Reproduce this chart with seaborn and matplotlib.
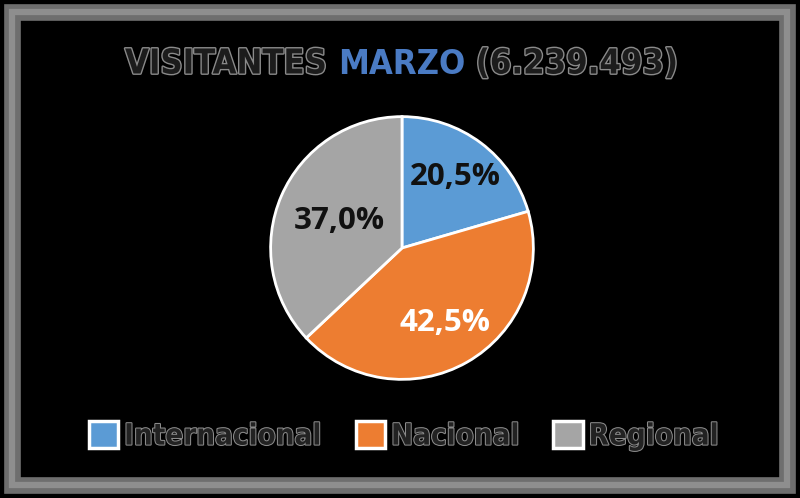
import matplotlib
matplotlib.use("Agg")
import matplotlib.pyplot as plt
import matplotlib.patheffects as pe
from matplotlib.patches import Patch, Rectangle
import numpy as np
import seaborn as sns

# datos del grafico
categorias = ["Internacional", "Nacional", "Regional"]
porcentajes = [20.5, 42.5, 37.0]
colores = ["#5B9BD5", "#ED7D31", "#A5A5A5"]
color_etiquetas = ["#111111", "#FFFFFF", "#111111"]
titulo_partes = ["VISITANTES ", "MARZO", " (6.239.493)"]
titulo_colores = ["#1c1c1c", "#4a7bc4", "#1c1c1c"]

sns.set_theme(style="white")
plt.rcParams["font.family"] = ["Open Sans", "DejaVu Sans"]

fig = plt.figure(figsize=(8, 4.98), dpi=100)
fig.patch.set_facecolor("black")
renderer = fig.canvas.get_renderer()

# marco gris
fig.patches.append(Rectangle((0.0156, 0.0271), 0.96875, 0.9488, transform=fig.transFigure,
                             fill=False, edgecolor="#6e6e6e", linewidth=12, joinstyle="miter"))
fig.patches.append(Rectangle((0.0156, 0.0271), 0.96875, 0.9488, transform=fig.transFigure,
                             fill=False, edgecolor="#8e8e8e", linewidth=4.5, joinstyle="miter"))

# pastel
ax = fig.add_axes([(402 - 134) / 800, 1 - (248 + 134) / 498, 268 / 800, 268 / 498])
ax.set_facecolor("black")
cunas, _ = ax.pie(porcentajes, colors=colores, startangle=90, counterclock=False,
                  wedgeprops=dict(edgecolor="white", linewidth=2))
ax.set_xlim(-1.02, 1.02)
ax.set_ylim(-1.02, 1.02)
ax.axis("off")

distancias = [0.68, 0.66, 0.52]
for cuna, p, c, d in zip(cunas, porcentajes, color_etiquetas, distancias):
    ang = np.deg2rad((cuna.theta1 + cuna.theta2) / 2)
    ax.text(d * np.cos(ang), d * np.sin(ang), f"{p:.1f}%".replace(".", ","),
            ha="center", va="center", color=c, fontsize=22.5, fontweight="bold")

# titulo en partes, ajustado al ancho del original (125 a 678 px)
contorno = [pe.withStroke(linewidth=2, foreground="#8a8a8a")]
fuente_titulo = dict(family="DejaVu Sans", fontstretch="condensed", fontweight="bold")
prueba = fig.text(0, 0, "".join(titulo_partes), fontsize=29, **fuente_titulo)
ancho = prueba.get_window_extent(renderer=renderer).width
prueba.remove()
tam_titulo = 29 * 553 / ancho
x = 125 / 800
for txt, col in zip(titulo_partes, titulo_colores):
    t = fig.text(x, 1 - 64 / 498, txt, color=col, fontsize=tam_titulo, va="center", ha="left", **fuente_titulo)
    if col != "#4a7bc4":
        t.set_path_effects(contorno)
    bb = t.get_window_extent(renderer=renderer)
    x = bb.x1 / fig.bbox.width

# leyenda, "Internacional" de unos 200 px
prueba = fig.text(0, 0, categorias[0], fontsize=25, family="DejaVu Sans", fontstretch="condensed", fontweight="bold")
ancho = prueba.get_window_extent(renderer=renderer).width
prueba.remove()
tam_leyenda = 25 * 198 / ancho

handles = [Patch(facecolor=c, edgecolor="white", linewidth=2.5) for c in colores]
leg = fig.legend(handles, categorias, loc="center", bbox_to_anchor=(404 / 800, 1 - 436 / 498),
                 ncol=3, frameon=False,
                 prop=dict(family="DejaVu Sans", stretch="condensed", size=tam_leyenda, weight="bold"),
                 handlelength=1.0, handleheight=1.0, handletextpad=0.2, columnspacing=1.15)
for t in leg.get_texts():
    t.set_color("#222222")
    t.set_path_effects([pe.withStroke(linewidth=1.5, foreground="#8a8a8a")])

fig.savefig("out.png", dpi=100, facecolor="black")
